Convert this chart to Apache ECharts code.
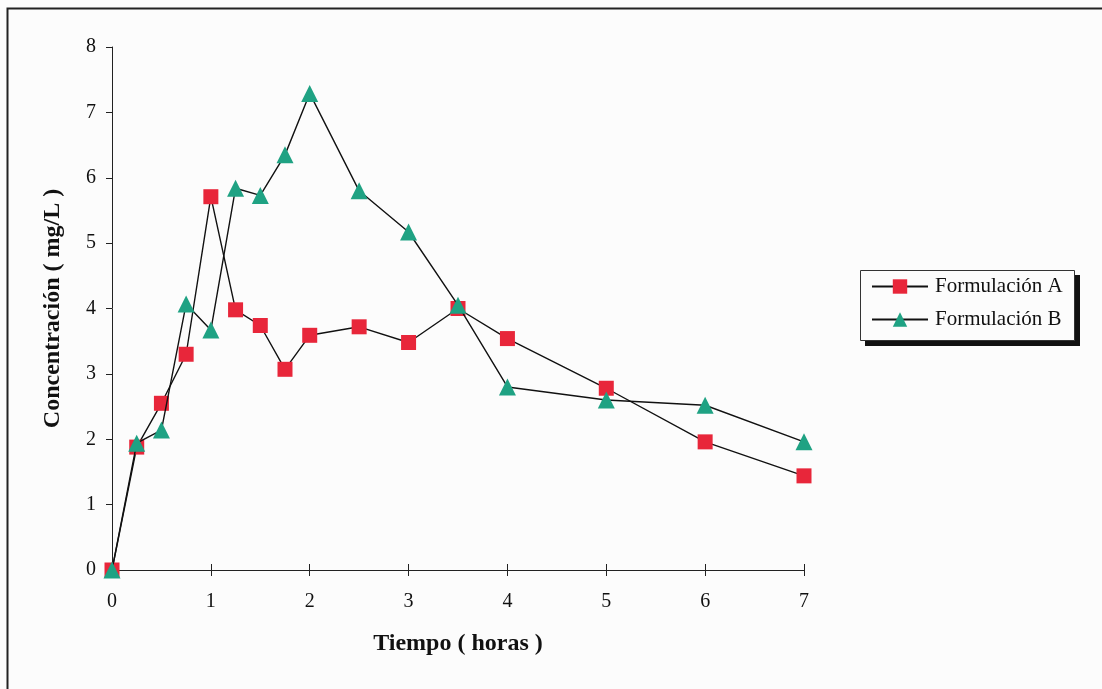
<!DOCTYPE html>
<html>
<head>
<meta charset="utf-8">
<script src="https://cdn.jsdelivr.net/npm/echarts@6/dist/echarts.min.js"></script>
<style>
  html, body { margin: 0; padding: 0; background: #fcfcfc; }
  #chart { width: 1102px; height: 689px; }
</style>
</head>
<body>
<div id="chart"></div>
<script>
// Sampling times (hours)
const tiempos = [0, 0.25, 0.5, 0.75, 1, 1.25, 1.5, 1.75, 2, 2.5, 3, 3.5, 4, 5, 6, 7];
// Plasma concentrations (mg/L)
const formulacionA = [0, 1.88, 2.55, 3.30, 5.71, 3.98, 3.74, 3.07, 3.59, 3.72, 3.48, 4.00, 3.54, 2.78, 1.96, 1.44];
const formulacionB = [0, 1.94, 2.14, 4.07, 3.67, 5.84, 5.73, 6.35, 7.29, 5.80, 5.17, 4.05, 2.80, 2.60, 2.52, 1.96];
const seriesNames = ['Formulación A', 'Formulación B'];
const xTicks = [0, 1, 2, 3, 4, 5, 6, 7];
const yTicks = [0, 1, 2, 3, 4, 5, 6, 7, 8];

const pair = (xs, ys) => xs.map((x, i) => [x, ys[i]]);
const font = '"Liberation Serif", "Times New Roman", serif';

const chart = echarts.init(document.getElementById('chart'));
const axisLine = { lineStyle: { color: '#222', width: 1 } };

chart.setOption({
  backgroundColor: '#fcfcfc',
  animation: false,
  grid: { left: 112, right: 298, top: 47, bottom: 119 },
  graphic: [
    // outer frame
    { type: 'rect', shape: { x: 7.5, y: 8.5, width: 1200, height: 800 },
      style: { fill: 'none', stroke: '#222', lineWidth: 2 }, z: 0 },
    // legend shadow + box
    { type: 'rect', shape: { x: 865, y: 275, width: 215, height: 71 },
      style: { fill: '#111' }, z: 1 },
    { type: 'rect', shape: { x: 860.5, y: 270.5, width: 214, height: 70 },
      style: { fill: '#fcfcfc', stroke: '#333', lineWidth: 1 }, z: 2 }
  ],
  legend: {
    left: 866, top: 271, orient: 'vertical', itemGap: 12,
    itemWidth: 56, itemHeight: 18, z: 5,
    textStyle: { fontFamily: font, fontSize: 21, color: '#111', padding: [0, 0, 0, 2] },
    data: seriesNames
  },
  xAxis: [{
    type: 'value', min: 0, max: 7, interval: 1,
    axisLine: axisLine,
    axisTick: { show: true, length: 6, lineStyle: { color: '#222' } },
    axisLabel: { fontFamily: font, fontSize: 20, color: '#111', margin: 22,
      customValues: xTicks },
    splitLine: { show: false },
    name: 'Tiempo ( horas )', nameLocation: 'middle', nameGap: 62,
    nameTextStyle: { fontFamily: font, fontSize: 24, fontWeight: 'bold', color: '#111' }
  }, {
    // upper half of the cross ticks on the time axis
    type: 'value', min: 0, max: 7, interval: 1, position: 'bottom',
    axisLine: { show: false },
    axisTick: { show: true, inside: true, length: 6, lineStyle: { color: '#222' } },
    axisLabel: { show: false }, splitLine: { show: false }
  }],
  yAxis: {
    type: 'value', min: 0, max: 8, interval: 1,
    axisLine: { show: true, lineStyle: { color: '#222', width: 1 } },
    axisTick: { show: true, length: 6, lineStyle: { color: '#222' } },
    axisLabel: { fontFamily: font, fontSize: 20, color: '#111', margin: 16,
      customValues: yTicks },
    splitLine: { show: false },
    name: 'Concentración ( mg/L )', nameLocation: 'middle', nameGap: 47,
    nameTextStyle: { fontFamily: font, fontSize: 24, fontWeight: 'bold', color: '#111' }
  },
  series: [{
    name: seriesNames[0], type: 'line', data: pair(tiempos, formulacionA),
    symbol: 'rect', symbolSize: 15,
    lineStyle: { color: '#111', width: 1.4 },
    itemStyle: { color: '#e8263a' }, z: 3
  }, {
    name: seriesNames[1], type: 'line', data: pair(tiempos, formulacionB),
    symbol: 'triangle', symbolSize: 17,
    lineStyle: { color: '#111', width: 1.4 },
    itemStyle: { color: '#1fa283' }, z: 4
  }]
});
</script>
</body>
</html>
